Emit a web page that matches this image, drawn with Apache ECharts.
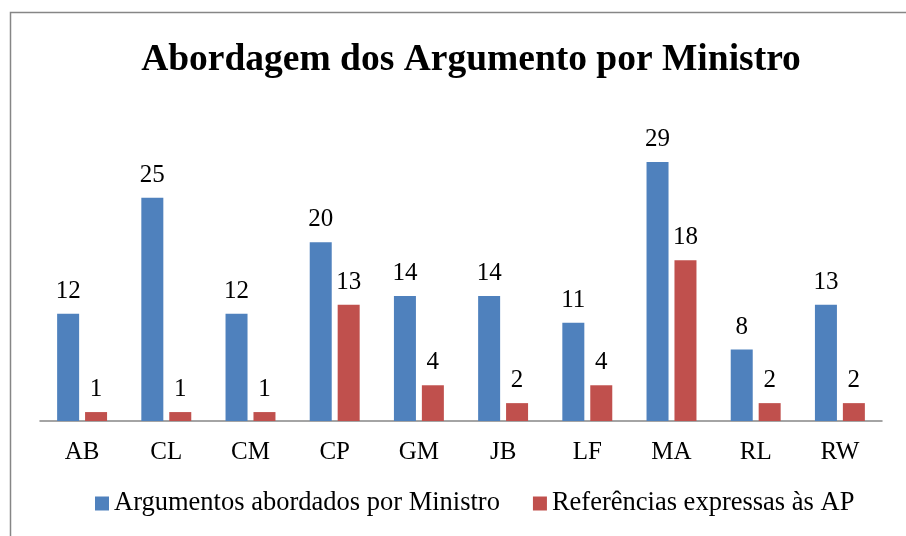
<!DOCTYPE html>
<html>
<head>
<meta charset="utf-8">
<script src="https://cdn.jsdelivr.net/npm/echarts@6/dist/echarts.min.js"></script>
<style>
  html, body { margin: 0; padding: 0; background: #fff; }
  #chart { width: 906px; height: 536px; }
</style>
</head>
<body>
<div id="chart"></div>
<script>
const categories = ['AB', 'CL', 'CM', 'CP', 'GM', 'JB', 'LF', 'MA', 'RL', 'RW'];
const argumentos = [12, 25, 12, 20, 14, 14, 11, 29, 8, 13];
const referencias = [1, 1, 1, 13, 4, 2, 4, 18, 2, 2];

const font = '"Liberation Serif", "Times New Roman", serif';

const chart = echarts.init(document.getElementById('chart'));

const option = {
    animation: false,
    graphic: [{
        type: 'rect',
        shape: { x: 10.5, y: 12.5, width: 920, height: 560 },
        style: { fill: 'none', stroke: '#868686', lineWidth: 1.5 },
        silent: true
    }],
    title: {
        text: 'Abordagem dos Argumento por Ministro',
        left: 466,
        textAlign: 'center',
        top: 36,
        textStyle: { fontFamily: font, fontWeight: 'bold', fontSize: 37.5, color: '#000' }
    },
    legend: {
        bottom: 14,
        left: 90,
        itemWidth: 14,
        itemHeight: 14,
        itemGap: 33,
        icon: 'rect',
        textStyle: { fontFamily: font, fontSize: 26.5, color: '#000' },
        data: ['Argumentos abordados por Ministro', 'Referências expressas às AP']
    },
    grid: { left: 40, right: 24, top: 153, bottom: 115 },
    xAxis: {
        type: 'category',
        data: categories,
        axisLine: { lineStyle: { color: '#868686', width: 1.5 } },
        axisTick: { show: false },
        axisLabel: { fontFamily: font, fontSize: 25, color: '#000', margin: 19 }
    },
    yAxis: {
        type: 'value',
        min: 0,
        max: 30,
        show: false,
        splitLine: { show: false }
    },
    series: [
        {
            name: 'Argumentos abordados por Ministro',
            type: 'bar',
            data: argumentos,
            barWidth: 22,
            barGap: '27%',
            itemStyle: { color: '#4F81BD' },
            label: { show: true, position: 'top', distance: 10, fontFamily: font, fontSize: 25, color: '#000' }
        },
        {
            name: 'Referências expressas às AP',
            type: 'bar',
            data: referencias,
            barWidth: 22,
            itemStyle: { color: '#C0504D' },
            label: { show: true, position: 'top', distance: 10, fontFamily: font, fontSize: 25, color: '#000' }
        }
    ]
};
chart.setOption(option);
</script>
</body>
</html>
